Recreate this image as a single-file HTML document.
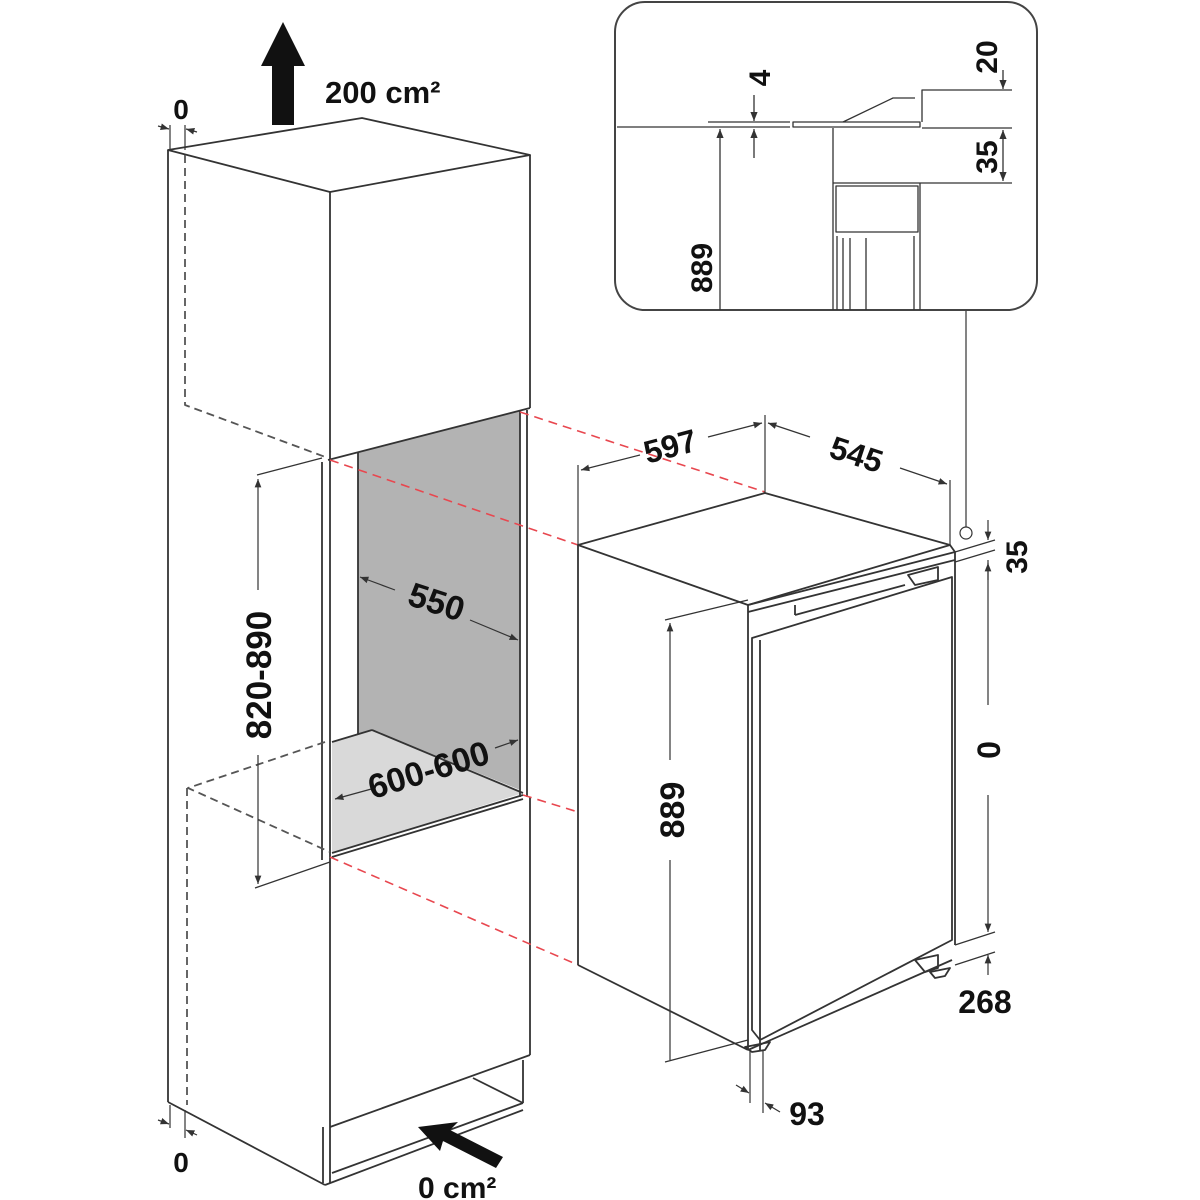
<!DOCTYPE html>
<html><head><style>html,body{margin:0;padding:0;background:#fff}svg{display:block}
text{font-family:"Liberation Sans",sans-serif;font-weight:bold;fill:#111}</style></head>
<body>
<svg width="1200" height="1200" viewBox="0 0 1200 1200" xmlns="http://www.w3.org/2000/svg">
<defs>
<marker id="a" viewBox="0 0 10 10" refX="10" refY="5" markerWidth="7" markerHeight="7" orient="auto-start-reverse"><path d="M0,1 L10,5 L0,9 Z" fill="#333"/></marker>
</defs>
<g stroke="#333" stroke-width="1.8" fill="none" stroke-linejoin="round">
<polygon points="358,453 520,411 520,790 372,730 358,734" fill="#b3b3b3" stroke="none"/>
<polygon points="332,742 372,730 523,793 332,853" fill="#d9d9d9" stroke="none"/>
<line x1="358" y1="453" x2="358" y2="734"/>
<line x1="372" y1="730" x2="523" y2="793"/>
<line x1="332" y1="742" x2="372" y2="730"/>
<line x1="332" y1="853" x2="523" y2="795"/>
<line x1="332" y1="857" x2="523" y2="799"/>
<polygon points="168,150 362,118 530,155 330,192"/>
<line x1="168" y1="150" x2="168" y2="1102"/>
<line x1="330" y1="192" x2="330" y2="460"/>
<line x1="530" y1="155" x2="530" y2="408"/>
<line x1="328" y1="460" x2="530" y2="408"/>
<line x1="322" y1="462" x2="322" y2="860"/>
<line x1="330" y1="460" x2="330" y2="860"/>
<line x1="520" y1="411" x2="520" y2="797"/>
<line x1="527" y1="410" x2="527" y2="797"/>
<line x1="330" y1="860" x2="330" y2="1183"/>
<line x1="530" y1="797" x2="530" y2="1055"/>
<line x1="330" y1="1127" x2="530" y2="1055"/>
<line x1="323" y1="1127" x2="323" y2="1183"/>
<line x1="332" y1="1173" x2="523" y2="1103"/>
<line x1="523" y1="1060" x2="523" y2="1103"/>
<line x1="473" y1="1078" x2="523" y2="1103"/>
<line x1="168" y1="1102" x2="325" y2="1185"/>
<line x1="325" y1="1185" x2="523" y2="1110"/>
<g stroke-dasharray="8,5" stroke="#555">
<polyline points="185,155 185,405 328,458"/>
<polyline points="325,742 188,788 330,852"/>
<line x1="187" y1="788" x2="187" y2="1105"/>
</g>
<g stroke="#e8474f" stroke-dasharray="9,6" stroke-width="1.6">
<line x1="520" y1="412" x2="765" y2="492"/>
<line x1="330" y1="460" x2="578" y2="545"/>
<line x1="523" y1="795" x2="578" y2="812"/>
<line x1="330" y1="857" x2="578" y2="965"/>
</g>
<line x1="257" y1="475" x2="322" y2="458" stroke-width="1.2"/>
<line x1="255" y1="888" x2="330" y2="862" stroke-width="1.2"/>
<line x1="258" y1="590" x2="258" y2="479" stroke-width="1.2" marker-end="url(#a)"/>
<line x1="258" y1="755" x2="258" y2="884" stroke-width="1.2" marker-end="url(#a)"/>
<line x1="395" y1="590" x2="360" y2="577" stroke-width="1.2" marker-end="url(#a)"/>
<line x1="470" y1="620" x2="518" y2="640" stroke-width="1.2" marker-end="url(#a)"/>
<line x1="375" y1="788" x2="335" y2="799" stroke-width="1.2" marker-end="url(#a)"/>
<line x1="495" y1="748" x2="518" y2="740" stroke-width="1.2" marker-end="url(#a)"/>
<polygon points="578,545 765,493 950,545 748,605"/>
<line x1="578" y1="545" x2="578" y2="965"/>
<line x1="578" y1="965" x2="748" y2="1050"/>
<line x1="748" y1="605" x2="748" y2="1050"/>
<line x1="760" y1="1050" x2="760" y2="1040"/>
<line x1="748" y1="1050" x2="952" y2="960"/>
<line x1="950" y1="545" x2="955" y2="552"/>
<line x1="955" y1="552" x2="955" y2="945"/>
<line x1="748" y1="605" x2="955" y2="552"/>
<line x1="748" y1="612" x2="955" y2="560"/>
<line x1="795" y1="605" x2="795" y2="615"/>
<line x1="795" y1="615" x2="905" y2="585"/>
<polygon points="752,638 952,577 952,940 760,1040 752,1030"/>
<line x1="760" y1="640" x2="760" y2="1040"/>
<polygon points="908,575 938,567 938,580 915,585"/>
<polygon points="915,960 938,955 938,968 925,972"/>
<polygon points="930,972 950,968 945,976 935,978"/>
<polygon points="745,1047 770,1042 765,1050 752,1052"/>
<g stroke-width="1.2">
<line x1="578" y1="465" x2="578" y2="545"/>
<line x1="765" y1="415" x2="765" y2="493"/>
<line x1="950" y1="480" x2="950" y2="545"/>
<line x1="640" y1="455" x2="581" y2="470" marker-end="url(#a)"/>
<line x1="708" y1="437" x2="762" y2="423" marker-end="url(#a)"/>
<line x1="810" y1="437" x2="768" y2="423" marker-end="url(#a)"/>
<line x1="900" y1="468" x2="947" y2="484" marker-end="url(#a)"/>
<line x1="665" y1="620" x2="748" y2="600"/>
<line x1="665" y1="1062" x2="748" y2="1040"/>
<line x1="670" y1="760" x2="670" y2="623" marker-end="url(#a)"/>
<line x1="670" y1="860" x2="670" y2="1060"/>
<line x1="955" y1="552" x2="995" y2="540"/>
<line x1="955" y1="562" x2="995" y2="550"/>
<line x1="955" y1="945" x2="995" y2="932"/>
<line x1="955" y1="965" x2="995" y2="952"/>
<line x1="988" y1="520" x2="988" y2="540" marker-end="url(#a)"/>
<line x1="988" y1="580" x2="988" y2="563" marker-end="url(#a)"/>
<line x1="988" y1="705" x2="988" y2="560"/>
<line x1="988" y1="795" x2="988" y2="932" marker-end="url(#a)"/>
<line x1="988" y1="975" x2="988" y2="955" marker-end="url(#a)"/>
<line x1="750" y1="1050" x2="750" y2="1103"/>
<line x1="763" y1="1050" x2="763" y2="1113"/>
<line x1="736" y1="1085" x2="749" y2="1093" marker-end="url(#a)"/>
<line x1="780" y1="1112" x2="765" y2="1103" marker-end="url(#a)"/>
<line x1="966" y1="310" x2="966" y2="527"/>
<circle cx="966" cy="533" r="6" fill="#fff"/>
<line x1="170" y1="125" x2="170" y2="150"/>
<line x1="185" y1="125" x2="185" y2="150"/>
<line x1="158" y1="126" x2="169" y2="129" marker-end="url(#a)"/>
<line x1="197" y1="132" x2="186" y2="129" marker-end="url(#a)"/>
<line x1="170" y1="1105" x2="170" y2="1128"/>
<line x1="185" y1="1110" x2="185" y2="1138"/>
<line x1="158" y1="1120" x2="169" y2="1124" marker-end="url(#a)"/>
<line x1="197" y1="1135" x2="186" y2="1130" marker-end="url(#a)"/>
</g>
<rect x="615" y="2" width="422" height="308" rx="30" ry="30" stroke="#444" stroke-width="2"/>
<g stroke-width="1.3">
<line x1="617" y1="127" x2="790" y2="127"/>
<line x1="708" y1="122" x2="790" y2="122"/>
<polygon points="793,122 920,122 920,127 793,127"/>
<polyline points="843,122 893,98 915,98"/>
<polyline points="922,122 922,90 1012,90"/>
<line x1="922" y1="128" x2="1012" y2="128"/>
<line x1="833" y1="128" x2="833" y2="310"/>
<line x1="833" y1="183" x2="1012" y2="183"/>
<rect x="836" y="186" width="82" height="46"/>
<line x1="920" y1="183" x2="920" y2="310"/>
<line x1="837" y1="236" x2="837" y2="310"/>
<line x1="843" y1="238" x2="843" y2="310"/>
<line x1="850" y1="238" x2="850" y2="310"/>
<line x1="866" y1="238" x2="866" y2="310"/>
<line x1="914" y1="236" x2="914" y2="310"/>
<line x1="720" y1="200" x2="720" y2="129" marker-end="url(#a)"/>
<line x1="720" y1="200" x2="720" y2="310"/>
<line x1="754" y1="95" x2="754" y2="121" marker-end="url(#a)"/>
<line x1="754" y1="158" x2="754" y2="129" marker-end="url(#a)"/>
<line x1="1003" y1="70" x2="1003" y2="89" marker-end="url(#a)"/>
<line x1="1003" y1="155" x2="1003" y2="130" marker-end="url(#a)"/>
<line x1="1003" y1="155" x2="1003" y2="181" marker-end="url(#a)"/>
</g>
</g>
<polygon points="261,66 283,22 305,66 294,66 294,125 272,125 272,66" fill="#111"/>
<polygon points="418,1127 458,1122 450,1130 503,1157 496,1168 443,1141 440,1151" fill="#111"/>
<text x="325" y="103" font-size="31">200 cm²</text>
<text x="181" y="119" font-size="28" text-anchor="middle">0</text>
<text x="181" y="1172" font-size="28" text-anchor="middle">0</text>
<text x="418" y="1198" font-size="30">0 cm²</text>
<text transform="translate(271,675) rotate(-90)" font-size="35" text-anchor="middle">820-890</text>
<text transform="translate(433,613) rotate(18)" font-size="34" text-anchor="middle">550</text>
<text transform="translate(432,781) rotate(-17)" font-size="34" text-anchor="middle">600-600</text>
<text transform="translate(673,457) rotate(-15)" font-size="32" text-anchor="middle">597</text>
<text transform="translate(853,465) rotate(18)" font-size="32" text-anchor="middle">545</text>
<text transform="translate(684,810) rotate(-90)" font-size="34" text-anchor="middle">889</text>
<text transform="translate(1000,750) rotate(-90)" font-size="32" text-anchor="middle">0</text>
<text transform="translate(1027,557) rotate(-90)" font-size="30" text-anchor="middle">35</text>
<text x="985" y="1013" font-size="32" text-anchor="middle">268</text>
<text x="807" y="1125" font-size="32" text-anchor="middle">93</text>
<text transform="translate(712,268) rotate(-90)" font-size="30" text-anchor="middle">889</text>
<text transform="translate(770,78) rotate(-90)" font-size="30" text-anchor="middle">4</text>
<text transform="translate(997,57) rotate(-90)" font-size="30" text-anchor="middle">20</text>
<text transform="translate(997,157) rotate(-90)" font-size="30" text-anchor="middle">35</text>
</svg>
</body></html>
